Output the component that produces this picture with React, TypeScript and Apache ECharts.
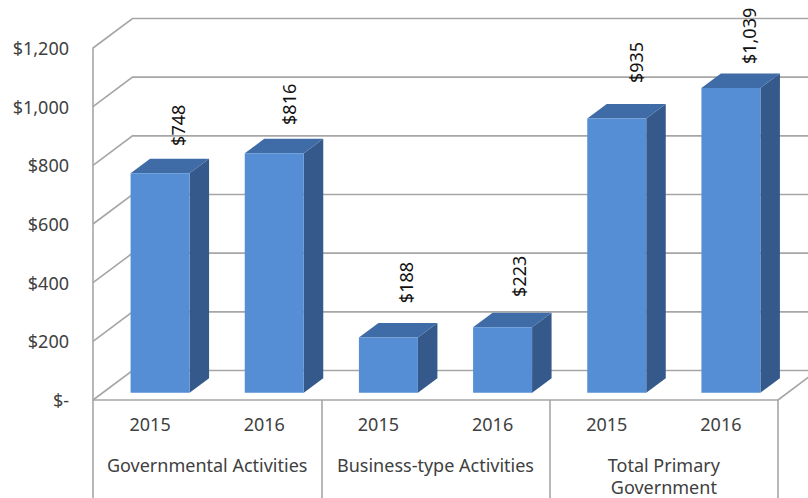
import React, { useEffect, useRef } from "react";
import * as echarts from "echarts";

const years = ["2015", "2016", "2015", "2016", "2015", "2016"];
const groups = ["Governmental Activities", "Business-type Activities", "Total Primary\nGovernment"];
const values = [748, 816, 188, 223, 935, 1039];
const yTicks = [0, 200, 400, 600, 800, 1000, 1200];
const labelNudgeX = [0, -3.5, 0, -2, 1, 0];
const labelNudgeY = [4, 3, -3, 1, -4, 0];

const FONT = "'Noto Sans'";
const FONT_SIZE = 18;
const TEXT = "#404040";
const LINE = "#a6a6a6";
const WALL_DX = 39.5;
const WALL_DY = -29.5;
const BAR_W = 59;
const BAR_DX = 19.5;
const BAR_DY = -14.5;
const BAR_SHIFT_X = 10;
const BAR_SHIFT_Y = -7.3;

const fmtAxis = (v: number) => (v === 0 ? "$-" : "$" + v.toLocaleString("en-US"));

function wallItem(params: any, api: any) {
  const v = api.value(0);
  const y = api.coord([0, v])[1];
  const cs = params.coordSys;
  const x0 = cs.x;
  const x1 = cs.x + cs.width;
  const shape = { points: [[x0, y], [x0 + WALL_DX, y + WALL_DY], [x1 + WALL_DX, y + WALL_DY]] };
  const style = { fill: "none", stroke: LINE, lineWidth: 1.6 };
  const children: any[] = [{ type: "polyline", shape, style }];
  if (v === 0) {
    children.push({
      type: "line",
      shape: { x1, y1: y, x2: x1 + WALL_DX, y2: y + WALL_DY },
      style,
    });
  }
  return { type: "group", children };
}

function barItem(_params: any, api: any) {
  const i = api.value(0);
  const val = api.value(1);
  const cx = api.coord([i, 0])[0] + BAR_SHIFT_X;
  const yb = api.coord([i, 0])[1] + BAR_SHIFT_Y;
  const yt = api.coord([i, val])[1] + BAR_SHIFT_Y;
  const l = cx - BAR_W / 2;
  const r = cx + BAR_W / 2;
  return {
    type: "group",
    children: [
      {
        type: "polygon",
        shape: { points: [[r, yt], [r + BAR_DX, yt + BAR_DY], [r + BAR_DX, yb + BAR_DY], [r, yb]] },
        style: { fill: "#35598a" },
      },
      {
        type: "polygon",
        shape: { points: [[l, yt], [l + BAR_DX, yt + BAR_DY], [r + BAR_DX, yt + BAR_DY], [r, yt]] },
        style: { fill: "#3f6ca6" },
      },
      { type: "rect", shape: { x: l, y: yt, width: BAR_W, height: yb - yt }, style: { fill: "#558ed5" } },
      {
        type: "text",
        x: cx + 18 + labelNudgeX[i],
        y: yt - 52 + labelNudgeY[i],
        rotation: Math.PI / 2,
        style: {
          text: "$" + val.toLocaleString("en-US"),
          align: "center",
          verticalAlign: "middle",
          font: `${FONT_SIZE}px ${FONT}`,
          fill: "#111111",
        },
      },
    ],
  };
}

export default function App() {
  const ref = useRef<HTMLDivElement>(null);
  useEffect(() => {
    const chart = echarts.init(ref.current!, undefined, { renderer: "svg" });
    chart.setOption({
      animation: false,
      backgroundColor: "#ffffff",
      grid: { left: 93, top: 48, width: 685, height: 352, containLabel: false, outerBoundsMode: "none" },
      xAxis: [
        {
          type: "category",
          data: years,
          position: "bottom",
          axisLine: { show: true, onZero: false, lineStyle: { color: LINE, width: 1.6 } },
          axisTick: { show: false },
          axisLabel: { interval: 0, margin: 15, color: TEXT, fontFamily: FONT, fontSize: FONT_SIZE },
          splitLine: { show: false },
        },
        {
          type: "category",
          data: groups,
          position: "bottom",
          axisLine: { show: false },
          axisTick: { show: true, length: 98, lineStyle: { color: LINE, width: 1.6 } },
          axisLabel: { interval: 0, margin: 54, color: TEXT, fontFamily: FONT, fontSize: FONT_SIZE, lineHeight: 22 },
          splitLine: { show: false },
        },
      ],
      yAxis: {
        type: "value",
        min: 0,
        max: 1200,
        interval: 200,
        axisLine: { show: true, lineStyle: { color: LINE, width: 1.6 } },
        axisTick: { show: false },
        axisLabel: { margin: 24, color: TEXT, fontFamily: FONT, fontSize: FONT_SIZE, formatter: fmtAxis },
        splitLine: { show: false },
      },
      series: [
        {
          type: "custom",
          xAxisIndex: 0,
          renderItem: wallItem,
          data: yTicks.map((t) => [t]),
          encode: { y: 0 },
          silent: true,
          z: 1,
        },
        {
          type: "custom",
          xAxisIndex: 0,
          renderItem: barItem,
          data: values.map((v, i) => [i, v]),
          encode: { x: 0, y: 1 },
          z: 2,
        },
      ],
    });
    return () => chart.dispose();
  }, []);
  return <div ref={ref} style={{ position: "fixed", left: 0, top: 0, width: 808, height: 498 }} />;
}
